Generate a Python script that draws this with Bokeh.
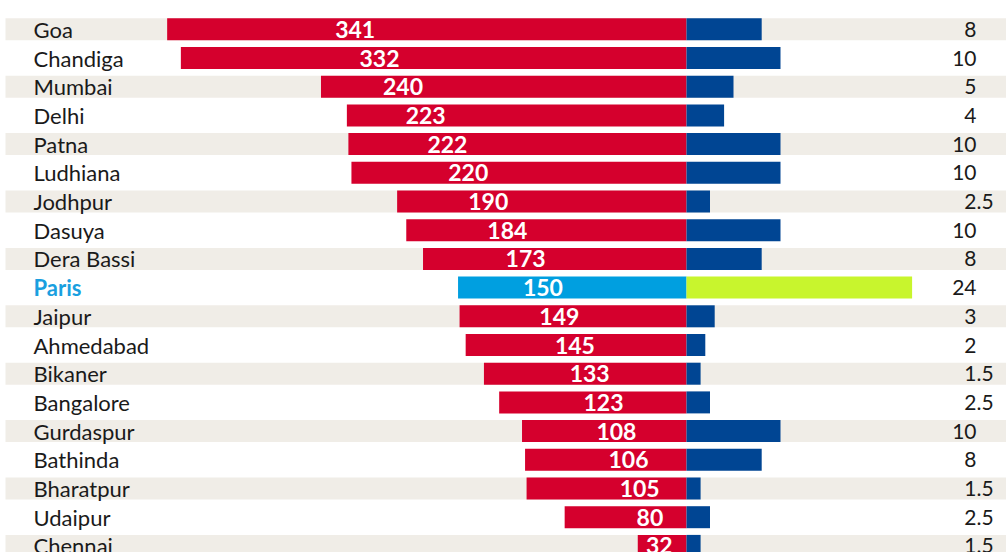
from bokeh.plotting import figure
from bokeh.models import Range1d, ColumnDataSource
from bokeh.core.properties import value
from bokeh.embed import file_html
from bokeh.resources import INLINE

# ---- data ----
cities = ["Goa", "Chandiga", "Mumbai", "Delhi", "Patna", "Ludhiana", "Jodhpur",
          "Dasuya", "Dera Bassi", "Paris", "Jaipur", "Ahmedabad", "Bikaner",
          "Bangalore", "Gurdaspur", "Bathinda", "Bharatpur", "Udaipur", "Chennai"]
left_values = [341, 332, 240, 223, 222, 220, 190, 184, 173, 150, 149, 145, 133,
               123, 108, 106, 105, 80, 32]
right_values = [8, 10, 5, 4, 10, 10, 2.5, 10, 8, 24, 3, 2, 1.5, 2.5, 10, 8, 1.5,
                2.5, 1.5]
highlight = "Paris"

# ---- styles / layout ----
W, H = 1006, 552
CENTER_PX = 686
RED_SCALE = 1.523     # px per unit (left bars)
BLUE_SCALE = 9.4      # px per unit (right bars)
ROW_PX = 28.7
FIRST_ROW_PX = 28.8
BAR_H = 22 / ROW_PX
RED = "#D5002D"
BLUE = "#004593"
HL_LEFT = "#009FE0"
HL_RIGHT = "#C8F52D"
STRIPE = "#F0EDE7"
TEXT = "#1A1A1A"
HL_TEXT = "#1A9FDF"
FONT = value("Lato")

n = len(cities)
rows = list(range(n))
is_hl = [c == highlight for c in cities]

# label stagger rule (descending diagonal of value labels)
mid = (n - 1) / 2
def label_offset(i):
    r = (n - 1 - i) - mid
    return 156.8 + 16.9 * r + 0.44 * (r * r - 30)

src = ColumnDataSource(dict(
    y=rows,
    city=cities,
    lv=[-v for v in left_values],
    rv=right_values,
    lv_text=[str(v) for v in left_values],
    lab_x=[CENTER_PX - label_offset(i) for i in rows],
    red_col=[HL_LEFT if h else RED for h in is_hl],
    blue_col=[HL_RIGHT if h else BLUE for h in is_hl],
    city_col=[HL_TEXT if h else TEXT for h in is_hl],
    city_style=["bold" if h else "normal" for h in is_hl],
    int_text=[str(int(v)) for v in right_values],
    frac_text=[("." + str(v).split(".")[1]) if v != int(v) else "" for v in right_values],
))

stripe_rows = [i for i in rows if i % 2 == 0]

p = figure(width=W, height=H, output_backend="svg", toolbar_location=None,
           x_range=Range1d(-CENTER_PX / RED_SCALE, (W - CENTER_PX) / RED_SCALE),
           y_range=Range1d((H - FIRST_ROW_PX) / ROW_PX, -FIRST_ROW_PX / ROW_PX),
           x_axis_location=None, y_axis_location=None, min_border=0)
p.extra_x_ranges = {
    "blue": Range1d(-CENTER_PX / BLUE_SCALE, (W - CENTER_PX) / BLUE_SCALE),
    "px": Range1d(0, W),
}
p.grid.visible = False
p.outline_line_color = None
p.background_fill_color = "white"
p.border_fill_color = "white"

p.hbar(y=stripe_rows, left=5, right=W, height=BAR_H, fill_color=STRIPE,
       line_color=None, x_range_name="px")

p.hbar(y="y", left="lv", right=0, height=BAR_H, fill_color="red_col",
       line_color=None, source=src)
p.hbar(y="y", left=0, right="rv", height=BAR_H, fill_color="blue_col",
       line_color=None, source=src, x_range_name="blue")

p.text(x="lab_x", y="y", text="lv_text", source=src, x_range_name="px",
       text_align="center", text_baseline="middle", text_color="white",
       text_font=FONT, text_font_style="bold", text_font_size="23px")

p.text(x=33, y="y", text="city", source=src, x_range_name="px",
       text_align="left", text_baseline="middle", text_color="city_col",
       text_font=FONT, text_font_style="city_style", text_font_size="22px")

p.text(x=976, y="y", text="int_text", source=src, x_range_name="px",
       text_align="right", text_baseline="middle", text_color=TEXT,
       text_font=FONT, text_font_size="21px")
p.text(x=976, y="y", text="frac_text", source=src, x_range_name="px",
       text_align="left", text_baseline="middle", text_color=TEXT,
       text_font=FONT, text_font_size="21px")

open("out.html", "w").write(file_html(p, INLINE))
